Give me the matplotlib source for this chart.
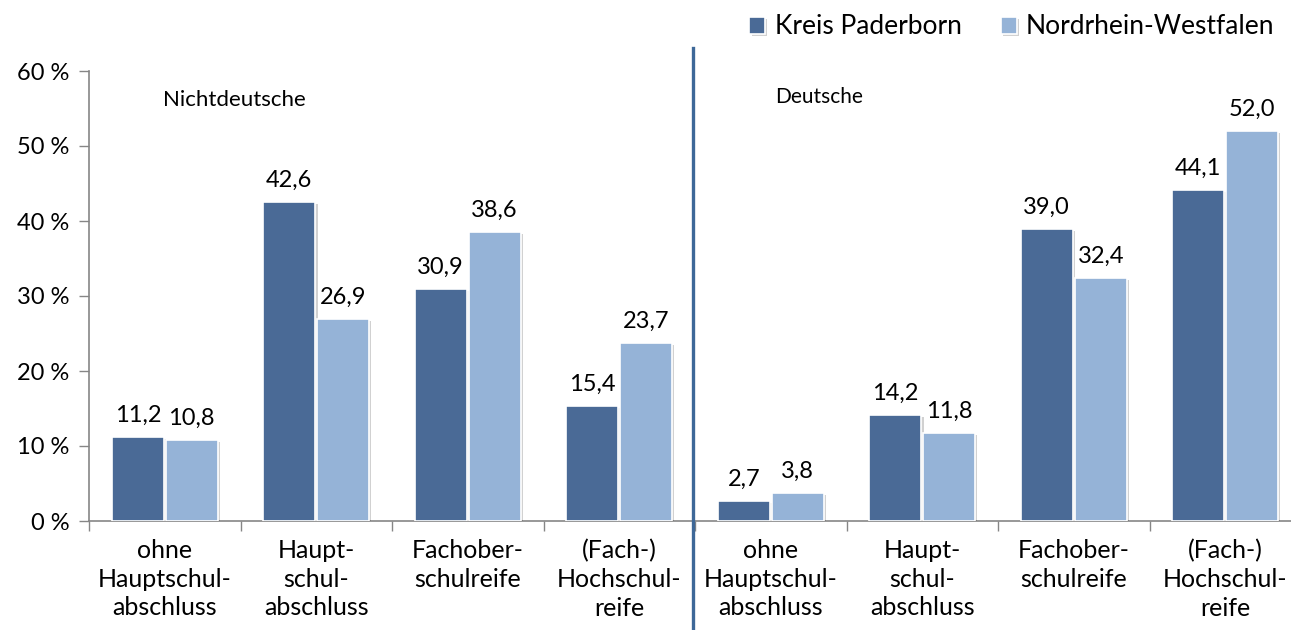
import matplotlib
matplotlib.use("Agg")
import matplotlib.pyplot as plt
from matplotlib.lines import Line2D
import matplotlib.patheffects as pe
import numpy as np

plt.rcParams['font.family'] = ['Lato', 'DejaVu Sans']

categories = ["ohne\nHauptschul-\nabschluss", "Haupt-\nschul-\nabschluss", "Fachober-\nschulreife", "(Fach-)\nHochschul-\nreife",
              "ohne\nHauptschul-\nabschluss", "Haupt-\nschul-\nabschluss", "Fachober-\nschulreife", "(Fach-)\nHochschul-\nreife"]
kreis_paderborn = [11.2, 42.6, 30.9, 15.4, 2.7, 14.2, 39.0, 44.1]
nrw = [10.8, 26.9, 38.6, 23.7, 3.8, 11.8, 32.4, 52.0]
series_names = ["Kreis Paderborn", "Nordrhein-Westfalen"]
group_names = ["Nichtdeutsche", "Deutsche"]
yticks = [0, 10, 20, 30, 40, 50, 60]

dark = "#4A6A96"
light = "#95B3D7"

W, H = 1291, 630
fig = plt.figure(figsize=(W / 100, H / 100), dpi=100)
ax = fig.add_axes([89 / W, (H - 521) / H, 1212 / W, 450 / H])

x = np.arange(len(categories))
bw = 0.345
shadow = [pe.SimplePatchShadow(offset=(1.5, -1.5), shadow_rgbFace="#000000", alpha=0.18), pe.Normal()]
b1 = ax.bar(x - 0.178, kreis_paderborn, bw, color=dark, edgecolor="white", linewidth=1.2, label=series_names[0], zorder=3)
b2 = ax.bar(x + 0.178, nrw, bw, color=light, edgecolor="white", linewidth=1.2, label=series_names[1], zorder=3)
for b in list(b1) + list(b2):
    b.set_path_effects(shadow)

for bars, vals in ((b1, kreis_paderborn), (b2, nrw)):
    for rect, v in zip(bars, vals):
        ax.annotate(f"{v:.1f}".replace(".", ","), (rect.get_x() + rect.get_width() / 2, v),
                    xytext=(0, 8), textcoords="offset points", ha="center", va="bottom",
                    fontsize=17, color="#000000")

ax.set_xlim(-0.5, len(categories) - 0.5)
ax.set_ylim(0, 60)
ax.set_yticks(yticks)
ax.set_yticklabels([f"{t} %" for t in yticks], fontsize=17)
ax.set_xticks(x)
ax.set_xticklabels(categories, fontsize=18, linespacing=1.3)
ax.set_xticks(np.arange(-0.5, len(categories), 1.0), minor=True)
ax.tick_params(axis="x", which="major", length=0, pad=13)
ax.tick_params(axis="x", which="minor", length=7, color="#868686", width=1)
ax.tick_params(axis="y", length=7, color="#868686", width=1, pad=7)
for s in ("top", "right"):
    ax.spines[s].set_visible(False)
for s in ("left", "bottom"):
    ax.spines[s].set_color("#868686")
    ax.spines[s].set_linewidth(1.2)

ax.text(0.46, 56.1, group_names[0], ha="center", va="center", fontsize=16)
ax.text(4.32, 56.5, group_names[1], ha="center", va="center", fontsize=15)

fig.add_artist(Line2D([693 / W, 693 / W], [0, (H - 48) / H], color="#3E6898", linewidth=2.4, transform=fig.transFigure))

fig.legend(handles=[b1, b2], labels=series_names, loc="center", bbox_to_anchor=(1012 / W, (H - 27) / H),
           ncol=2, frameon=False, fontsize=19, handlelength=0.6, handleheight=0.6, handletextpad=0.35,
           columnspacing=1.5)

fig.savefig("out.png", dpi=100)
